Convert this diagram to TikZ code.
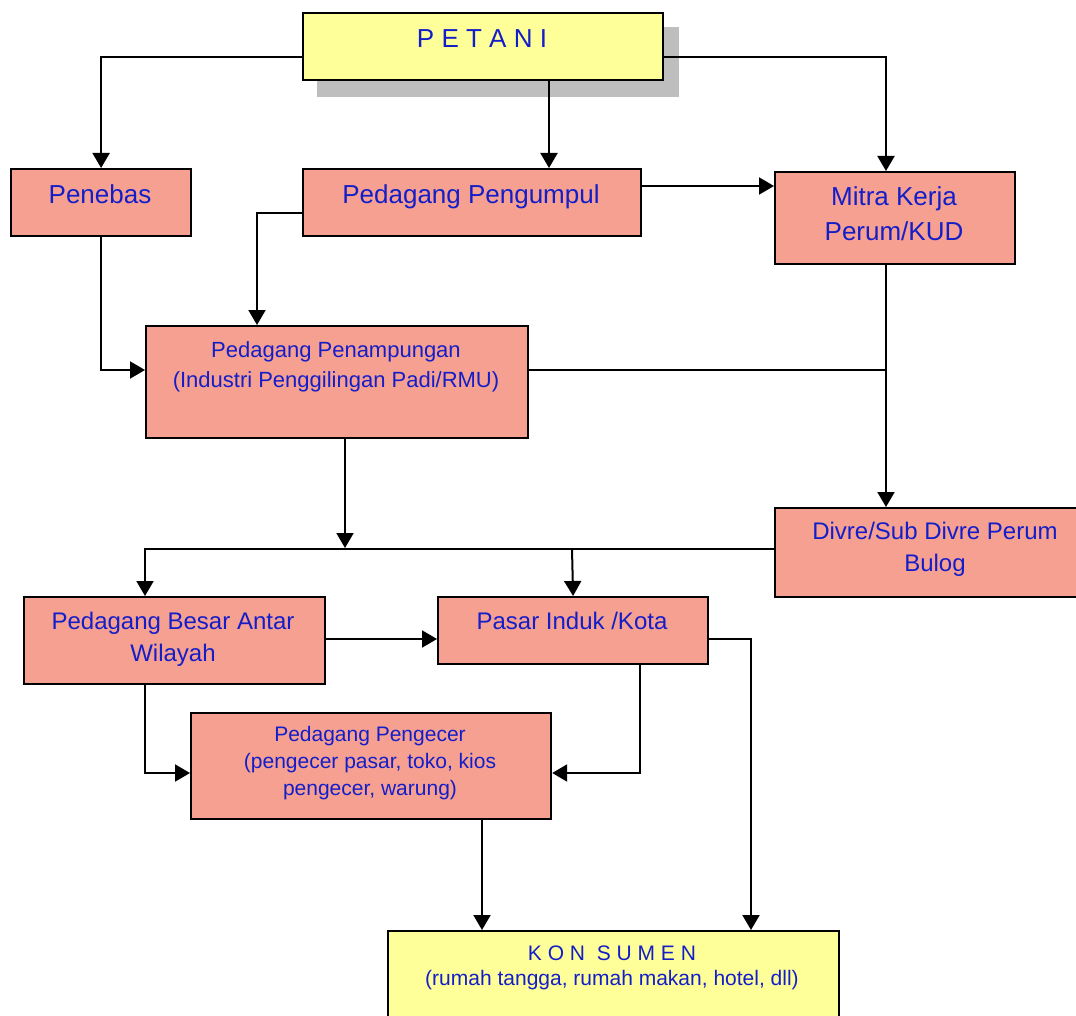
\documentclass[tikz,border=0pt]{standalone}
\usepackage{fontspec}
\setmainfont{Liberation Sans}
\usetikzlibrary{arrows.meta}
\definecolor{salmon}{RGB}{246,160,146}
\definecolor{pale}{RGB}{255,255,153}
\definecolor{txtblue}{RGB}{20,30,200}
\definecolor{shadowgrey}{RGB}{190,190,190}
\begin{document}
\begin{tikzpicture}[x=1pt,y=-1pt,
  salmonbox/.style={draw=black,line width=2.2pt,fill=salmon,inner sep=0pt,anchor=north west},
  yellowbox/.style={draw=black,line width=2.2pt,fill=pale,inner sep=0pt,anchor=north west},
  lbl/.style={text=txtblue,inner sep=0pt,align=center,anchor=base},
  fbig/.style={font=\fontsize{26}{35.5}\selectfont},
  fmid/.style={font=\fontsize{24}{32}\selectfont},
  fsmall/.style={font=\fontsize{22}{30}\selectfont},
  ftiny/.style={font=\fontsize{21}{26.7}\selectfont},
  fkon/.style={font=\fontsize{21}{25}\selectfont},
  conn/.style={draw=black,line width=2pt},
  arr/.style={conn,-{Triangle[length=15pt,width=17pt]}}]
\useasboundingbox (0,0) rectangle (1076,1016);

% shadow of PETANI
\fill[shadowgrey] (317,27) rectangle (679,97);

% boxes
\node[yellowbox,minimum width=360pt,minimum height=67pt] (petani) at (302,12) {};
\node[salmonbox,minimum width=180pt,minimum height=67pt] (penebas) at (10,168) {};
\node[salmonbox,minimum width=338pt,minimum height=67pt] (pengumpul) at (302,168) {};
\node[salmonbox,minimum width=240pt,minimum height=92pt] (mitra) at (774,171) {};
\node[salmonbox,minimum width=382pt,minimum height=112pt] (penampungan) at (145,325) {};
\node[salmonbox,minimum width=316pt,minimum height=89pt] (divre) at (774,507) {};
\node[salmonbox,minimum width=301pt,minimum height=87pt] (besar) at (23,596) {};
\node[salmonbox,minimum width=270pt,minimum height=67pt] (pasar) at (437,596) {};
\node[salmonbox,minimum width=360pt,minimum height=106pt] (pengecer) at (190,712) {};
\node[yellowbox,minimum width=451pt,minimum height=110pt] (konsumen) at (387,930) {};

% texts (anchor base = baseline of the last line)
\node[lbl,fbig] (tpetani) at (482,47.3) {P E T A N I};
\node[lbl,fbig] (tpenebas) at (100,203.3) {Penebas};
\node[lbl,fbig] (tpengumpul) at (471,203.3) {Pedagang Pengumpul};
\node[lbl,fbig] (tmitra) at (894,240.7) {Mitra Kerja\\Perum/KUD};
\node[lbl,fsmall] (tpenampungan) at (336,387) {Pedagang Penampungan\\(Industri Penggilingan Padi/RMU)};
\node[lbl,fmid] (tdivre) at (935,571.7) {Divre/Sub Divre Perum\\Bulog};
\node[lbl,fmid] (tbesar) at (173,661) {Pedagang Besar Antar\\Wilayah};
\node[lbl,fmid] (tpasar) at (572,629) {Pasar Induk /Kota};
\node[lbl,ftiny] (tpengecer) at (370,795) {Pedagang Pengecer\\(pengecer pasar, toko, kios\\pengecer, warung)};
\node[lbl,fkon] (tkonsumen) at (612,985) {K O N \ S U M E N\\(rumah tangga, rumah makan, hotel, dll)};

% helper coordinates
\coordinate (yP) at (0,57);
\coordinate (xA) at (549,0);
\coordinate (xM) at (886,0);
\coordinate (yB) at (0,186);
\coordinate (yC) at (0,213);
\coordinate (xC) at (257,0);
\coordinate (yD) at (0,370);
\coordinate (yE) at (0,549);
\coordinate (yEa) at (0,548);
\coordinate (xE) at (345,0);
\coordinate (xF) at (145,0);
\coordinate (xG) at (572,0);
\coordinate (yH) at (0,639);
\coordinate (xI) at (751,0);
\coordinate (yJ) at (0,773);
\coordinate (xK) at (640,0);
\coordinate (xL) at (482,0);

% connectors
\draw[arr] (petani.west |- yP) -| (penebas.north);
\draw[arr] (petani.south -| xA) -- (pengumpul.north -| xA);
\draw[arr] (petani.east |- yP) -| (mitra.north -| xM);
\draw[arr] (pengumpul.east |- yB) -- (mitra.west |- yB);
\draw[arr] (pengumpul.west |- yC) -| (penampungan.north -| xC);
\draw[arr] (penebas.south) |- (penampungan.west |- yD);
\draw[conn] (penampungan.east |- yD) -- (xM |- yD);
\draw[arr] (mitra.south -| xM) -- (divre.north -| xM);
\draw[arr] (penampungan.south -| xE) -- (xE |- yEa);
\draw[arr] (divre.west |- yE) -| (besar.north -| xF);
\draw[arr] (xG |- yE) -- (pasar.north);
\draw[arr] (besar.east |- yH) -- (pasar.west |- yH);
\draw[arr] (pasar.east |- yH) -| (konsumen.north -| xI);
\draw[arr] (besar.south -| xF) |- (pengecer.west |- yJ);
\draw[arr] (pasar.south -| xK) |- (pengecer.east |- yJ);
\draw[arr] (pengecer.south -| xL) -- (konsumen.north -| xL);
\end{tikzpicture}
\end{document}
